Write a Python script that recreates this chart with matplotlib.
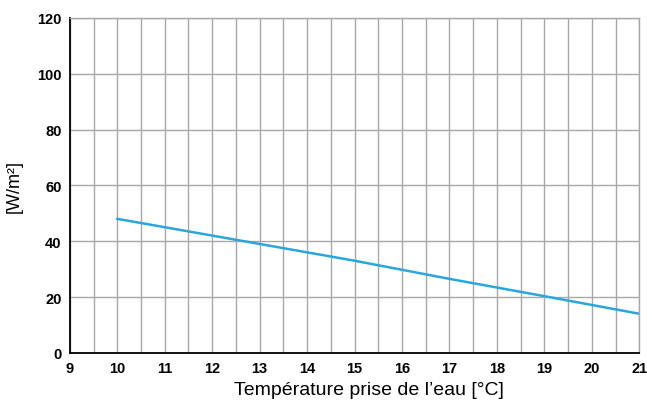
import matplotlib
matplotlib.use("Agg")
import matplotlib.pyplot as plt

plt.rcParams["font.family"] = ["Liberation Sans", "DejaVu Sans"]

temperature = [10, 12, 13, 15, 17, 19, 21]
power = [48, 42, 39, 33, 26.5, 20.3, 14]
x_ticks = list(range(9, 22))
y_ticks = [0, 20, 40, 60, 80, 100, 120]

fig = plt.figure(figsize=(6.47, 4.10), dpi=100)
ax = fig.add_axes([0.108, 0.137, 0.880, 0.817])

ax.plot(temperature, power, color="#2aa6df", linewidth=1.8, zorder=3)

ax.set_xlim(9, 21)
ax.set_ylim(0, 120)
ax.set_xticks(x_ticks)
ax.set_yticks(y_ticks)
ax.set_xticks([x + 0.5 for x in x_ticks[:-1]], minor=True)
ax.grid(True, which="both", axis="x", color="#a8a8a8", linewidth=1)
ax.grid(True, which="major", axis="y", color="#a8a8a8", linewidth=1)
ax.tick_params(which="both", length=0)
ax.tick_params(labelsize=10.5, pad=6)
for lbl in ax.get_xticklabels() + ax.get_yticklabels():
    lbl.set_fontweight("bold")

for side in ("top", "right"):
    ax.spines[side].set_color("#a8a8a8")
    ax.spines[side].set_linewidth(1)
for side in ("left", "bottom"):
    ax.spines[side].set_color("black")
    ax.spines[side].set_linewidth(1.3)

ax.set_xlabel("Température prise de l’eau [°C]", fontsize=14)
ax.xaxis.set_label_coords(0.526, -0.085)
ax.set_ylabel("[W/m²]", fontsize=13, labelpad=10)

fig.savefig("out.png", dpi=100)
